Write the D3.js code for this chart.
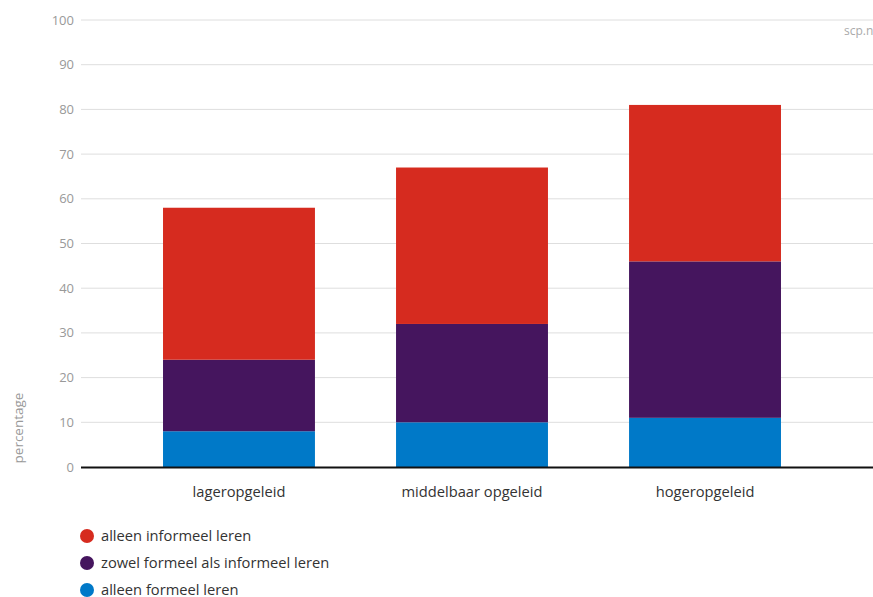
<!DOCTYPE html>
<html>
<head>
<meta charset="utf-8">
<script src="https://cdn.jsdelivr.net/npm/d3@7"></script>
<style>
  body { margin: 0; background: #fff; }
  svg { font-family: "Open Sans", sans-serif; }
</style>
</head>
<body>
<div id="chart"></div>
<script>
// data
const categories = ['lageropgeleid', 'middelbaar opgeleid', 'hogeropgeleid'];
const series = ['alleen formeel leren', 'zowel formeel als informeel leren', 'alleen informeel leren'];
const alleenFormeel = [8, 10, 11];
const zowelBeide = [16, 22, 35];
const alleenInformeel = [34, 35, 35];
const yTicks = [0, 10, 20, 30, 40, 50, 60, 70, 80, 90, 100];
const colors = ['#0079c8', '#45155e', '#d62b1f'];

const width = 873, height = 597;

const svg = d3.select('#chart')
    .append('svg')
    .attr('width', width)
    .attr('height', height);

const x = d3.scaleBand()
    .domain(categories)
    .range([81, 863])
    .paddingInner(0.348)
    .paddingOuter(0.352);

const y = d3.scaleLinear()
    .domain([0, 100])
    .range([467, 20]);

// gridlines
svg.append('g')
    .selectAll('line')
    .data(yTicks.filter(d => d > 0))
    .enter()
    .append('line')
    .attr('x1', 81)
    .attr('x2', width)
    .attr('y1', d => y(d))
    .attr('y2', d => y(d))
    .attr('stroke', '#dedede')
    .attr('stroke-width', 1);

// y tick labels
svg.append('g')
    .selectAll('text')
    .data(yTicks)
    .enter()
    .append('text')
    .attr('x', 74)
    .attr('y', d => y(d))
    .attr('dy', '0.35em')
    .attr('text-anchor', 'end')
    .attr('fill', '#999')
    .style('font-size', '13px')
    .text(d => d);

// stacked bars
const rows = categories.map((c, i) => ({
    cat: c,
    s0: alleenFormeel[i],
    s1: zowelBeide[i],
    s2: alleenInformeel[i]
}));
const stack = d3.stack().keys(['s0', 's1', 's2']);
const layers = stack(rows);

svg.append('g')
    .selectAll('g')
    .data(layers)
    .enter()
    .append('g')
    .attr('fill', (d, i) => colors[i])
    .selectAll('rect')
    .data(d => d)
    .enter()
    .append('rect')
    .attr('x', d => x(d.data.cat))
    .attr('width', x.bandwidth())
    .attr('y', d => y(d[1]))
    .attr('height', d => y(d[0]) - y(d[1]));

// baseline
svg.append('line')
    .attr('x1', 81)
    .attr('x2', width)
    .attr('y1', y(0) + 0.5)
    .attr('y2', y(0) + 0.5)
    .attr('stroke', '#111')
    .attr('stroke-width', 2);

// x labels
svg.append('g')
    .selectAll('text')
    .data(categories)
    .enter()
    .append('text')
    .attr('x', d => x(d) + x.bandwidth() / 2)
    .attr('y', 497)
    .attr('text-anchor', 'middle')
    .attr('fill', '#333')
    .style('font-size', '14.7px')
    .text(d => d);

// y axis title
svg.append('text')
    .attr('transform', 'translate(23,428) rotate(-90)')
    .attr('text-anchor', 'middle')
    .attr('fill', '#999')
    .style('font-size', '13.5px')
    .text('percentage');

// source
svg.append('text')
    .attr('x', 844)
    .attr('y', 35)
    .attr('fill', '#aaa')
    .style('font-size', '12px')
    .text('scp.nl');

// legend (reverse order: top = informeel)
const legend = svg.append('g')
    .selectAll('g')
    .data(series.slice().reverse())
    .enter()
    .append('g')
    .attr('transform', (d, i) => `translate(87,${536 + i * 27})`);

legend.append('circle')
    .attr('r', 7)
    .attr('fill', (d, i) => colors[2 - i]);

legend.append('text')
    .attr('x', 14)
    .attr('dy', '0.35em')
    .attr('fill', '#333')
    .style('font-size', '14.7px')
    .text(d => d);
</script>
</body>
</html>
